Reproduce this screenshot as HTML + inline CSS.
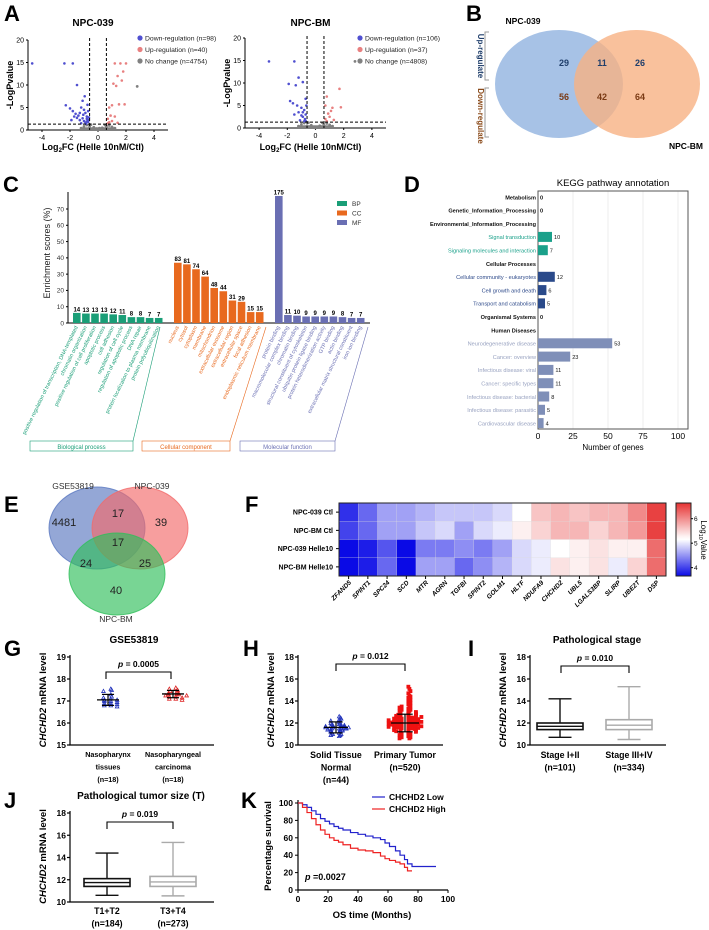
<!DOCTYPE html>
<html><head><meta charset="utf-8"><style>
html,body{margin:0;padding:0;background:#fff;}
svg{display:block;font-family:"Liberation Sans",Arial,sans-serif;}
.pl{font-size:22px;font-weight:bold;}
</style></head><body>
<svg id="fig" width="709" height="930" viewBox="0 0 709 930" xmlns="http://www.w3.org/2000/svg">
<text class="pl" x="4" y="21">A</text>
<text class="pl" x="466" y="21">B</text>
<text class="pl" x="3" y="192">C</text>
<text class="pl" x="404" y="192">D</text>
<text class="pl" x="4" y="512">E</text>
<text class="pl" x="245" y="512">F</text>
<text class="pl" x="4" y="656">G</text>
<text class="pl" x="243" y="656">H</text>
<text class="pl" x="468" y="656">I</text>
<text class="pl" x="4" y="808">J</text>
<text class="pl" x="241" y="808">K</text>
<g id="root"></g>
</svg>
<script>
// ===== DATA =====
const a1Down=[[-4.7,14.8],[-2.4,14.8],[-1.8,14.8],[-1.5,10],[-2.3,5.5],[-2.0,4.8],[-1.8,4.2],[-1.6,3.6],[-1.4,3.2],[-1.2,5],[-1.1,6.5],[-1.0,4.5],[-0.9,3.8],[-0.8,2.5],[-1.3,2.2],[-1.0,2.0],[-0.7,1.8],[-0.9,1.6],[-1.2,1.5],[-0.8,3],[-1.5,2.7],[-1.1,2.6],[-0.7,4.2],[-0.75,5.6],[-0.95,7.5],[-1.7,3.0],[-1.9,2.2],[-0.65,2.8],[-0.85,1.4],[-1.05,3.4],[-0.7,2.2],[-0.8,1.9],[-1.3,3.8]];
const a1Up=[[1.2,14.8],[1.6,14.8],[2.0,14.8],[1.8,13],[1.4,12],[1.1,10.3],[1.3,9.8],[1.7,11],[0.8,5],[1.0,5.5],[1.5,5.7],[0.7,2.5],[0.9,3.2],[1.9,5.7],[1.2,3.0],[0.8,1.7],[1.0,2.0],[1.4,1.6],[0.7,1.5]];
const a1None=[[2.8,9.7],[-1.0,0.8],[-0.8,1.1],[-0.6,0.5],[-0.4,0.3],[-0.2,0.1],[0,0],[0.2,0.1],[0.4,0.3],[0.6,0.6],[0.8,1.0],[1.0,0.7],[-0.5,1.2],[0.5,1.1],[-0.3,0.6],[0.3,0.5],[-0.7,0.2],[0.7,0.2],[-1.2,0.4],[1.2,0.4],[-0.9,0.1],[0.9,0.1],[-0.1,0.3],[0.1,0.4],[-0.6,0.9],[0.6,0.9]];
const a2Down=[[-3.3,14.8],[-1.5,14.8],[-1.2,11.2],[-1.9,9.8],[-1.4,9.5],[-0.9,10.2],[-1.8,6],[-1.6,5.5],[-1.3,5],[-1.0,4.5],[-0.8,4],[-0.7,3],[-1.2,3.5],[-0.9,2.5],[-0.75,2],[-1.1,1.7],[-0.8,1.5],[-1.5,3],[-0.65,5],[-0.7,6.5],[-1.0,2.8],[-0.7,1.6],[-0.9,3.5]];
const a2Up=[[1.7,8.7],[0.8,7],[0.7,5],[1.2,4.5],[1.8,4.6],[0.9,3.2],[1.0,2.5],[0.7,2],[1.3,1.8],[0.8,1.5],[1.1,3.8]];
const a2None=[[-1.0,0.8],[-0.8,1.1],[-0.6,0.5],[-0.4,0.3],[-0.2,0.1],[0,0],[0.2,0.1],[0.4,0.3],[0.6,0.6],[0.8,1.0],[1.0,0.7],[-0.5,1.2],[0.5,1.1],[-0.3,0.6],[0.3,0.5],[-0.7,0.2],[0.7,0.2],[-1.2,0.4],[1.2,0.4],[2.8,14.8]];
const volcXTicks=[-4,-2,0,2,4];
const volcYTicks=[0,5,10,15,20];
const vennBNums=["29","11","26","56","42","64"];
const goGroups=["BP","CC","MF"];
const goBP=[6.2,5.8,5.8,5.8,5.3,4.9,3.6,3.6,3.1,3.1];
const goCC=[37,36,33,28.5,21.5,19.5,13.8,13,6.7,6.7];
const goMF=[78,4.9,4.5,4,4,4,4,3.6,3.1,3.1];
const goBPn=[14,13,13,13,12,11,8,8,7,7];
const goCCn=[83,81,74,64,48,44,31,29,15,15];
const goMFn=[175,11,10,9,9,9,9,8,7,7];
const goBPt=["positive regulation of transcription, DNA-templated","chromatin organization","positive regulation of cell proliferation","apoptotic process","cell adhesion","regulation of cell cycle","regulation of apoptotic process","DNA repair","protein localization to plasma membrane","protein polyubiquitination"];
const goCCt=["nucleus","cytosol","cytoplasm","membrane","mitochondrion","extracellular exosome","extracellular region","extracellular space","focal adhesion","endoplasmic reticulum membrane"];
const goMFt=["protein binding","macromolecular complex binding","chromatin binding","structural constituent of cytoskeleton","ubiquitin protein ligase binding","protein heterodimerization activity","GTP binding","actin binding","extracellular matrix structural constituent","iron ion binding"];
const goYTicks=[0,10,20,30,40,50,60,70];
const keggLabels=["Metabolism","Genetic_Information_Processing","Environmental_Information_Processing","Signal transduction","Signaling molecules and interaction","Cellular Processes","Cellular community - eukaryotes","Cell growth and death","Transport and catabolism","Organismal Systems","Human Diseases","Neurodegenerative disease","Cancer: overview","Infectious disease: viral","Cancer: specific types","Infectious disease: bacterial","Infectious disease: parasitic","Cardiovascular disease"];
const keggValues=[0,0,null,10,7,null,12,6,5,0,null,53,23,11,11,8,5,4];
const keggKind=["h","h","h","t","t","h","n","n","n","h","h","l","l","l","l","l","l","l"];
const keggXTicks=[0,25,50,75,100];
const vennENums=["4481","17","39","17","24","25","40"];
const hmCols=["ZFAND5","SPINT1","SPC24","SCD","MTR","AGRN","TGFBI","SPINT2","GOLM1","HLTF","NDUFA9","CHCHD2","UBL5","LGALS3BP","SLIRP","UBE2T","DSP"];
const hmRows=["NPC-039 Ctl","NPC-BM Ctl","NPC-039 Helle10","NPC-BM Helle10"];
const hmR1=[4.0,4.3,4.6,4.6,4.7,4.8,4.8,4.8,4.9,5.1,5.5,5.6,5.5,5.6,5.6,5.9,6.4];
const hmR2=[4.1,4.3,4.6,4.6,4.8,4.9,4.6,4.9,5.0,5.2,5.4,5.6,5.6,5.4,5.6,5.8,6.4];
const hmR3=[3.8,3.9,4.2,3.8,4.4,4.4,4.5,4.4,4.6,4.9,5.0,5.1,5.2,5.3,5.2,5.2,6.1];
const hmR4=[3.8,3.9,4.3,3.8,4.6,4.6,4.3,4.5,4.7,4.9,5.0,5.3,5.2,5.3,5.0,5.4,6.1];
const hmTicks=[4,5,6];
const gNorm=[17.55,17.5,17.45,17.3,17.2,17.15,17.1,17.05,17.05,17.0,17.0,16.95,16.9,16.9,16.85,16.8,16.8,16.75];
const gCa=[17.6,17.55,17.5,17.45,17.4,17.35,17.35,17.3,17.3,17.3,17.25,17.25,17.2,17.2,17.15,17.1,17.1,17.05];
const gStats=[[17.05,16.8,17.3],[17.32,17.15,17.48]];
const gYTicks=[15,16,17,18,19];
const hNorm=[12.6,12.5,12.4,12.3,12.2,12.2,12.1,12.0,12.0,11.9,11.9,11.8,11.8,11.8,11.7,11.7,11.7,11.6,11.6,11.6,11.6,11.5,11.5,11.5,11.5,11.4,11.4,11.4,11.3,11.3,11.3,11.2,11.2,11.1,11.1,11.0,11.0,10.9,10.9,10.8,11.6,11.7,11.5,11.4];
const hTum=[15.3,15.1,14.9,14.7,14.5,14.4,14.3,14.2,14.1,14.0,13.9,13.8,13.7,13.6,13.5,13.5,13.4,13.4,13.3,13.3,13.2,13.2,13.1,13.1,13.0,13.0,13.0,12.9,12.9,12.9,12.8,12.8,12.8,12.7,12.7,12.7,12.6,12.6,12.6,12.6,12.5,12.5,12.5,12.5,12.4,12.4,12.4,12.4,12.3,12.3,12.3,12.3,12.2,12.2,12.2,12.2,12.1,12.1,12.1,12.1,12.0,12.0,12.0,12.0,11.9,11.9,11.9,11.9,11.8,11.8,11.8,11.8,11.7,11.7,11.7,11.7,11.6,11.6,11.6,11.6,11.5,11.5,11.5,11.5,11.4,11.4,11.4,11.3,11.3,11.3,11.2,11.2,11.2,11.1,11.1,11.0,11.0,10.9,10.9,10.8,10.8,10.7,10.7,10.6,10.6,12.0,11.9,12.1,11.8,12.2,11.7,12.3,12.05,11.95,12.15,11.85,12.25,11.75,12.35,11.65,12.45,11.55,12.55,11.45,12.65,11.35,12.75,11.25];
const hStats=[[11.6,11.1,12.1],[12.0,11.2,12.8]];
const hYTicks=[10,12,14,16,18];
const iBoxes=[[10.7,11.4,11.7,12.0,14.2],[10.5,11.4,11.8,12.3,15.3]];
const jBoxes=[[10.6,11.4,11.75,12.1,14.4],[10.55,11.4,11.8,12.3,15.35]];
const boxYTicks=[10,12,14,16,18];
const kLowT=[0,3,6,9,12,15,18,21,24,27,30,35,40,45,50,55,58,61,65,68,71,73,76,80,85,92];
const kLowS=[100,98,95,91,87,82,79,76,73,71,69,66,64,62,60,58,54,50,45,40,35,30,27,27,27,27];
const kHighT=[0,3,6,9,12,15,18,21,24,27,30,35,40,45,50,55,58,61,65,68,71,73,76];
const kHighS=[100,95,89,82,75,69,64,60,57,55,52,48,46,45,43,39,36,34,32,30,26,22,22];
const kXTicks=[0,20,40,60,80,100];
const kYTicks=[0,20,40,60,80,100];

// ===== HELPERS =====
const NS="http://www.w3.org/2000/svg";
const root=document.getElementById('root');
function el(tag,attrs,parent){const e=document.createElementNS(NS,tag);for(const k in attrs)e.setAttribute(k,attrs[k]);(parent||root).appendChild(e);return e;}
function tx(x,y,s,size,extra,parent){const e=el('text',Object.assign({x:x,y:y,'font-size':size},extra||{}),parent);e.textContent=s;return e;}
function lin(d0,d1,r0,r1){return v=>r0+(v-d0)/(d1-d0)*(r1-r0);}

// ===== A =====
function volcano(x0,x1,y20,y0,title,down,up,none,legendX,n){
  const g=el('g',{});
  
  
  const X=lin(-5,5,x0,x1),Y=lin(0,20,y0,y20);
  const ax=el('path',{d:`M${x0},${y20} V${y0} H${x1}`,stroke:'#000',fill:'none','stroke-width':1},g);
  
  
  volcXTicks.forEach(t=>{el('line',{x1:X(t),x2:X(t),y1:y0,y2:y0+2,stroke:'#000'},g);const tt=tx(X(t),y0+10,String(t),7,{'text-anchor':'middle'},g);});
  volcYTicks.forEach(t=>{el('line',{x1:x0-2,x2:x0,y1:Y(t),y2:Y(t),stroke:'#000'},g);const tt=tx(x0-4,Y(t)+2.5,String(t),7,{'text-anchor':'end'},g);});
  none.forEach(p=>{const c=el('circle',{cx:X(p[0]),cy:Y(p[1]),r:1.4,fill:'#808080'},g);});
  el('rect',{x:X(-1.3),y:Y(0.6),width:X(1.3)-X(-1.3),height:Y(0)-Y(0.6)+1,fill:'#808080'},g);
  down.forEach(p=>{const c=el('circle',{cx:X(p[0]),cy:Y(p[1]),r:1.3,fill:'#5050d0'},g);});
  up.forEach(p=>{const c=el('circle',{cx:X(p[0]),cy:Y(p[1]),r:1.3,fill:'#e88080'},g);});
  [-0.6,0.6].forEach(v=>el('line',{x1:X(v),x2:X(v),y1:y20-2,y2:y0,stroke:'#000','stroke-dasharray':'3,2'},g));
  el('line',{x1:x0,x2:x1,y1:Y(1.3),y2:Y(1.3),stroke:'#000','stroke-dasharray':'3,2'},g);
  const t=tx((x0+x1)/2-5,26,title,10,{'text-anchor':'middle','font-weight':'bold'},g);
  const xl=el('text',{x:(x0+x1)/2-5,y:150,'font-size':9,'font-weight':'bold','text-anchor':'middle'},g);
  xl.innerHTML='Log<tspan font-size="6" dy="2">2</tspan><tspan dy="-2">FC (Helle 10nM/Ctl)</tspan>';
  
  const yl=tx(0,0,'-LogPvalue',9,{'text-anchor':'middle','font-weight':'bold',transform:`translate(${x0-15},${(y0+y20)/2}) rotate(-90)`},g);
  
  const items=[['#5050d0','Down-regulation (n='+n[0]+')'],['#e88080','Up-regulation (n='+n[1]+')'],['#808080','No change (n='+n[2]+')']];
  items.forEach((it,i)=>{const yy=38+i*11.5;const c=el('circle',{cx:legendX,cy:yy,r:2.6,fill:it[0]},g);const lt=tx(legendX+5,yy+2.5,it[1],6.8,{fill:'#222'},g);});
}
volcano(28,168,40,130,'NPC-039',a1Down,a1Up,a1None,140,[98,40,4754]);
volcano(245,386,38,128,'NPC-BM',a2Down,a2Up,a2None,360,[106,37,4808]);

// ===== B =====
(function(){
  const g=el('g',{});
  const c1=el('ellipse',{cx:559,cy:84,rx:64,ry:54,fill:'#9dbbe3',opacity:0.9},g);
  const c2=el('ellipse',{cx:637,cy:84,rx:63,ry:54,fill:'#f7b183',opacity:0.8},g);
  const pos=[[564,66],[602,66],[640,66],[564,100],[602,100],[640,100]];
  vennBNums.forEach((s,i)=>{const t=tx(pos[i][0],pos[i][1],s,9,{'text-anchor':'middle','font-weight':'bold',fill:i<3?'#1f3e6b':'#7a3a14'},g);});
  const l1=tx(523,24,'NPC-039',8.5,{'text-anchor':'middle','font-weight':'bold'},g);
  const l2=tx(686,149,'NPC-BM',8.5,{'text-anchor':'middle','font-weight':'bold'},g);
  el('path',{d:'M489,32 H485 V80 H489 M489,88 H485 V137 H489',stroke:'#999',fill:'none'},g);
  const u=tx(0,0,'Up-regulate',8,{'text-anchor':'middle','font-weight':'bold',fill:'#1f3e6b',transform:'translate(478,56) rotate(90)'},g);
  const d=tx(0,0,'Down-regulate',8,{'text-anchor':'middle','font-weight':'bold',fill:'#8a4a1a',transform:'translate(478,116) rotate(90)'},g);
})();

// ===== C =====
(function(){
  const g=el('g',{});
  const x0=68,x1=370,Y=lin(0,70,323,209);
  el('path',{d:`M${x0},${Y(78)-4} V323 H${x1}`,stroke:'#000',fill:'none'},g);
  goYTicks.forEach(t=>{el('line',{x1:x0-2,x2:x0,y1:Y(t),y2:Y(t),stroke:'#000'},g);const tt=tx(x0-4,Y(t)+2.3,String(t),6.5,{'text-anchor':'end',fill:'#333'},g);});
  const yl=tx(0,0,'Enrichment scores (%)',9,{'text-anchor':'middle',fill:'#222',transform:`translate(50,253) rotate(-90)`},g);
  const sets=[[goBP,goBPn,goBPt,'#1a9e77',73],[goCC,goCCn,goCCt,'#e8691e',174],[goMF,goMFn,goMFt,'#6a6fb3',275]];
  sets.forEach((s,gi)=>{
    s[0].forEach((v,i)=>{
      const bx=s[4]+i*9.1;
      const r=el('rect',{x:bx,y:Y(v),width:7.6,height:323-Y(v),fill:s[3]},g);
      const n=tx(bx+3.8,Y(v)-1.5,String(s[1][i]),6,{'text-anchor':'middle','font-weight':'bold'},g);
      const lb=tx(0,0,s[2][i],5.4,{'text-anchor':'end',fill:s[3],transform:`translate(${bx+5},${327}) rotate(-64)`},g);
    });
  });
  const brk=[[68,30,160,133,'#1a9e77','Biological process'],[167,142,266,230,'#e8691e','Cellular component'],[272,240,368,335,'#6a6fb3','Molecular function']];
  brk.forEach(b=>{
    el('line',{x1:b[2],y1:327,x2:b[3],y2:441,stroke:b[4],'stroke-width':0.6},g);
    el('rect',{x:b[1],y:441,width:b[3]-b[1],height:10,fill:'none',stroke:b[4],'stroke-width':0.6},g);
    const t=tx((b[1]+b[3])/2,449,b[5],6,{'text-anchor':'middle',fill:b[4]},g);
  });
  const lc=['#1a9e77','#e8691e','#6a6fb3'];
  goGroups.forEach((s,i)=>{const r=el('rect',{x:337,y:201+i*9.5,width:10,height:5,fill:lc[i]},g);const t=tx(352,206+i*9.5,s,6.5,{fill:'#333'},g);});
})();

// ===== D =====
(function(){
  const g=el('g',{});
  const bx0=538,bx1=688,by0=191,by1=429,X=lin(0,25,538,573);
  keggXTicks.forEach(t=>{el('line',{x1:X(t),x2:X(t),y1:by0,y2:by1,stroke:'#eee'},g);const tt=tx(X(t),439,String(t),8.5,{'text-anchor':'middle'},g);});
  el('rect',{x:bx0,y:by0,width:bx1-bx0,height:by1-by0,fill:'none',stroke:'#555'},g);
  const t=tx(613,186,'KEGG pathway annotation',9.5,{'text-anchor':'middle'},g);
  const xl=tx(613,450,'Number of genes',8,{'text-anchor':'middle'},g);
  const cols={h:'#111',t:'#1aa08a',n:'#2a4a8a',l:'#7f8fb8'};const lcol={h:'#111',t:'#1aa08a',n:'#2e4a8a',l:'#98a2c0'};
  keggLabels.forEach((s,i)=>{
    const y=197+i*13.3;
    const lb=tx(536,y+2.3,s,5.6,{'text-anchor':'end',fill:lcol[keggKind[i]],'font-weight':keggKind[i]==='h'?'bold':'normal'},g);
    const v=keggValues[i];
    if(v===null)return;
    if(v>0){const r=el('rect',{x:bx0,y:y-5,width:X(v)-X(0),height:10,fill:cols[keggKind[i]]},g);}
    const vt=tx(X(v)+2,y+2.3,String(v),5.6,{fill:'#111','font-weight':v===0?'bold':'normal'},g);
  });
})();

// ===== E =====
(function(){
  const g=el('g',{});
  const c=[[97,528,'#5a78c0','venn-gse53819'],[140,528,'#f26a6a','venn-npc039'],[117,574,'#2fbf5a','venn-npcbm']];
  c.forEach(k=>{const e=el('ellipse',{cx:k[0],cy:k[1],rx:48,ry:41,fill:k[2],'fill-opacity':0.65,stroke:k[2],'stroke-opacity':0.8},g);});
  const pos=[[64,526],[118,517],[161,526],[118,546],[86,567],[145,567],[116,594]];
  vennENums.forEach((s,i)=>{const t=tx(pos[i][0],pos[i][1],s,11,{'text-anchor':'middle',fill:'#222'},g);});
  [['GSE53819',73,489],['NPC-039',152,489],['NPC-BM',116,622]].forEach(l=>{const t=tx(l[1],l[2],l[0],8.5,{'text-anchor':'middle',fill:'#333'},g);});
})();

// ===== F =====
(function(){
  const g=el('g',{});
  const x0=339,x1=666,y0=503,y1=576,cw=(x1-x0)/hmCols.length,rh=(y1-y0)/hmRows.length;
  function col(v){const mid=5.1;let t;if(v<mid){t=Math.min(1,(mid-v)/(mid-3.8));return `rgb(${Math.round(255-t*245)},${Math.round(255-t*245)},${Math.round(255-t*25)})`;}t=Math.min(1,(v-mid)/(6.5-mid));return `rgb(${Math.round(255-t*25)},${Math.round(255-t*205)},${Math.round(255-t*205)})`;}
  [hmR1,hmR2,hmR3,hmR4].forEach((row,r)=>{row.forEach((v,c)=>{const rc=el('rect',{x:x0+c*cw,y:y0+r*rh,width:cw+0.3,height:rh+0.3,fill:col(v),stroke:'#ddd','stroke-width':0.3},g);});
    const lb=tx(x0-6,y0+r*rh+rh/2+2.5,hmRows[r],7,{'text-anchor':'end','font-weight':'bold'},g);
    el('line',{x1:x0-3,x2:x0,y1:y0+r*rh+rh/2,y2:y0+r*rh+rh/2,stroke:'#000'},g);});
  el('rect',{x:x0,y:y0,width:x1-x0,height:y1-y0,fill:'none',stroke:'#222','stroke-width':1},g);
  hmCols.forEach((s,c)=>{const cx=x0+c*cw+cw/2;el('line',{x1:cx,x2:cx,y1:y1,y2:y1+3,stroke:'#000'},g);const t=tx(0,0,s,6.5,{'text-anchor':'end','font-weight':'bold','font-style':'italic',transform:`translate(${cx+3},${y1+7}) rotate(-45)`},g);});
  const defs=el('defs',{},g);const lg=el('linearGradient',{id:'cb',x1:0,y1:0,x2:0,y2:1},defs);
  [[0,col(6.6)],[0.45,col(5.2)],[0.5,col(5.1)],[1,col(3.7)]].forEach(s=>el('stop',{offset:s[0],'stop-color':s[1]},lg));
  const cb=el('rect',{x:676,y:503,width:15,height:73,fill:'url(#cb)',stroke:'#222'},g);
  const CY=lin(3.7,6.6,575,504);
  hmTicks.forEach(t=>{el('line',{x1:691,x2:693,y1:CY(t),y2:CY(t),stroke:'#000'},g);const tt=tx(694,CY(t)+2.5,String(t),6.5,{},g);});
  const ct=el('text',{'font-size':8,transform:'translate(701,540) rotate(90)','text-anchor':'middle'},g);ct.innerHTML='Log<tspan font-size="5.5" dy="2">10</tspan><tspan dy="-2">Value</tspan>';
})();

// ===== G-J helpers =====
function yAxis(g,ax,Y,ticks,top,bottom,xEnd){
  el('path',{d:`M${ax},${top} V${bottom} H${xEnd}`,stroke:'#000',fill:'none','stroke-width':1.2},g);
  ticks.forEach(t=>{el('line',{x1:ax-3,x2:ax,y1:Y(t),y2:Y(t),stroke:'#000','stroke-width':1.2},g);const tt=tx(ax-4,Y(t)+3,String(t),8.5,{'text-anchor':'end','font-weight':'bold'},g);});
  const yl=el('text',{'font-size':9.5,'font-weight':'bold','text-anchor':'middle',transform:`translate(${ax-24},${(top+bottom)/2}) rotate(-90)`},g);
  yl.innerHTML='<tspan font-style="italic">CHCHD2</tspan> mRNA level';
}
function pbrack(g,xa,xb,yb,ptxt){
  el('path',{d:`M${xa},${yb+7} V${yb} H${xb} V${yb+7}`,stroke:'#000',fill:'none','stroke-width':1.1},g);
  const t=el('text',{x:(xa+xb)/2,y:yb-5,'font-size':8.5,'font-weight':'bold','text-anchor':'middle'},g);
  t.innerHTML='<tspan font-style="italic">p</tspan> = '+ptxt;
}
function xlabels(g,x,y,lines,size){lines.forEach((s,i)=>{const t=tx(x,y+i*12.5,s,size,{'text-anchor':'middle','font-weight':'bold'},g);});}
function scatter(g,cx,Y,vals,color,shape,spread,sz){
  const cnt={};
  vals.forEach((v,i)=>{const k=Math.round(v*10);cnt[k]=(cnt[k]||0)+1;const j=cnt[k];const off=(j%2?1:-1)*Math.ceil(j/2)*spread*(0.8+(i%3)*0.25);
    let m;const x=cx+off,y=Y(v);
    if(shape==='tri'){m=el('path',{d:`M${x},${y-sz} L${x+sz},${y+sz*0.8} L${x-sz},${y+sz*0.8}Z`,fill:'none',stroke:color,'stroke-width':0.8},g);}
    else m=el('rect',{x:x-sz,y:y-sz,width:sz*2,height:sz*2,fill:color},g);
    });
}
function errbar(g,cx,Y,s,w){el('line',{x1:cx-w,x2:cx+w,y1:Y(s[0]),y2:Y(s[0]),stroke:'#000','stroke-width':1.3},g);el('line',{x1:cx,x2:cx,y1:Y(s[1]),y2:Y(s[2]),stroke:'#000','stroke-width':1.2},g);[1,2].forEach(k=>el('line',{x1:cx-w*0.55,x2:cx+w*0.55,y1:Y(s[k]),y2:Y(s[k]),stroke:'#000','stroke-width':1.2},g));}
function box(g,cx,Y,b,w,color){
  el('line',{x1:cx,x2:cx,y1:Y(b[0]),y2:Y(b[4]),stroke:color,'stroke-width':1.4},g);
  [0,4].forEach(k=>el('line',{x1:cx-w/4,x2:cx+w/4,y1:Y(b[k]),y2:Y(b[k]),stroke:color,'stroke-width':1.4},g));
  const r=el('rect',{x:cx-w/2,y:Y(b[3]),width:w,height:Y(b[1])-Y(b[3]),fill:'#fff',stroke:color,'stroke-width':1.6},g);
  el('line',{x1:cx-w/2,x2:cx+w/2,y1:Y(b[2]),y2:Y(b[2]),stroke:color,'stroke-width':1.4},g);
}

// G
(function(){const g=el('g',{});
  const Y=lin(15,19,745,657);yAxis(g,70,Y,gYTicks,655,745,214);
  const t=tx(134,643,'GSE53819',10,{'text-anchor':'middle','font-weight':'bold'},g);
  scatter(g,108,Y,gNorm,'#2233bb','tri',3.5,1.8);scatter(g,173,Y,gCa,'#dd2222','tri',3.5,1.8);
  errbar(g,108,Y,gStats[0],11);errbar(g,173,Y,gStats[1],11);
  pbrack(g,106,171,672,'0.0005');
  xlabels(g,108,757,['Nasopharynx','tissues','(n=18)'],7.2);xlabels(g,173,757,['Nasopharyngeal','carcinoma','(n=18)'],7.2);
})();
// H
(function(){const g=el('g',{});
  const Y=lin(10,18,745,657);yAxis(g,298,Y,hYTicks,655,745,443);
  scatter(g,336,Y,hNorm,'#2233bb','tri',4,1.8);scatter(g,405,Y,hTum,'#ee1111','sq',4.2,1.9);
  errbar(g,336,Y,hStats[0],12);errbar(g,405,Y,hStats[1],14);
  pbrack(g,336,405,664,'0.012');
  xlabels(g,336,758,['Solid Tissue','Normal','(n=44)'],8.8);xlabels(g,405,758,['Primary Tumor','(n=520)'],8.8);
})();
// I
(function(){const g=el('g',{});
  const Y=lin(10,18,745,657);yAxis(g,530,Y,boxYTicks,655,745,666);
  const t=tx(597,643,'Pathological stage',10,{'text-anchor':'middle','font-weight':'bold'},g);
  box(g,560,Y,iBoxes[0],46,'#111');box(g,629,Y,iBoxes[1],46,'#aaa');
  pbrack(g,561,629,666,'0.010');
  xlabels(g,560,758,['Stage I+II','(n=101)'],8.8);xlabels(g,629,758,['Stage III+IV','(n=334)'],8.8);
})();
// J
(function(){const g=el('g',{});
  const Y=lin(10,18,902,813);yAxis(g,70,Y,boxYTicks,811,902,214);
  const t=tx(141,799,'Pathological tumor size (T)',10,{'text-anchor':'middle','font-weight':'bold'},g);
  box(g,107,Y,jBoxes[0],46,'#111');box(g,173,Y,jBoxes[1],46,'#aaa');
  pbrack(g,107,173,822,'0.019');
  xlabels(g,107,914,['T1+T2','(n=184)'],8.8);xlabels(g,173,914,['T3+T4','(n=273)'],8.8);
})();
// K
(function(){const g=el('g',{});
  const X=lin(0,100,298,448),Y=lin(0,100,890,803);
  el('path',{d:`M298,800 V890 H448`,stroke:'#000',fill:'none','stroke-width':1.2},g);
  kXTicks.forEach(t=>{el('line',{x1:X(t),x2:X(t),y1:890,y2:893,stroke:'#000'},g);const tt=tx(X(t),902,String(t),8.5,{'text-anchor':'middle','font-weight':'bold'},g);});
  kYTicks.forEach(t=>{el('line',{x1:295,x2:298,y1:Y(t),y2:Y(t),stroke:'#000'},g);const tt=tx(293,Y(t)+3,String(t),8.5,{'text-anchor':'end','font-weight':'bold'},g);});
  const yl=tx(0,0,'Percentage survival',9.5,{'text-anchor':'middle','font-weight':'bold',transform:'translate(271,846) rotate(-90)'},g);
  const xl=tx(372,918,'OS time (Months)',9.5,{'text-anchor':'middle','font-weight':'bold'},g);
  function step(T,S){let d=`M${X(T[0])},${Y(S[0])}`;for(let i=1;i<T.length;i++)d+=` H${X(T[i])} V${Y(S[i])}`;return d;}
  const lo=el('path',{d:step(kLowT,kLowS),stroke:'#2222cc',fill:'none','stroke-width':1.2},g);
  const hi=el('path',{d:step(kHighT,kHighS),stroke:'#ee2222',fill:'none','stroke-width':1.2},g);
  [['#2222cc','CHCHD2 Low',800],['#ee2222','CHCHD2 High',812]].forEach(l=>{el('line',{x1:372,x2:385,y1:l[2]-3,y2:l[2]-3,stroke:l[0],'stroke-width':1.2},g);const t=tx(389,l[2],l[1],8.5,{'font-weight':'bold'},g);});
  const p=el('text',{x:305,y:880,'font-size':9,'font-weight':'bold'},g);p.innerHTML='<tspan font-style="italic">p</tspan> =0.0027';
})();
</script>
</body></html>
